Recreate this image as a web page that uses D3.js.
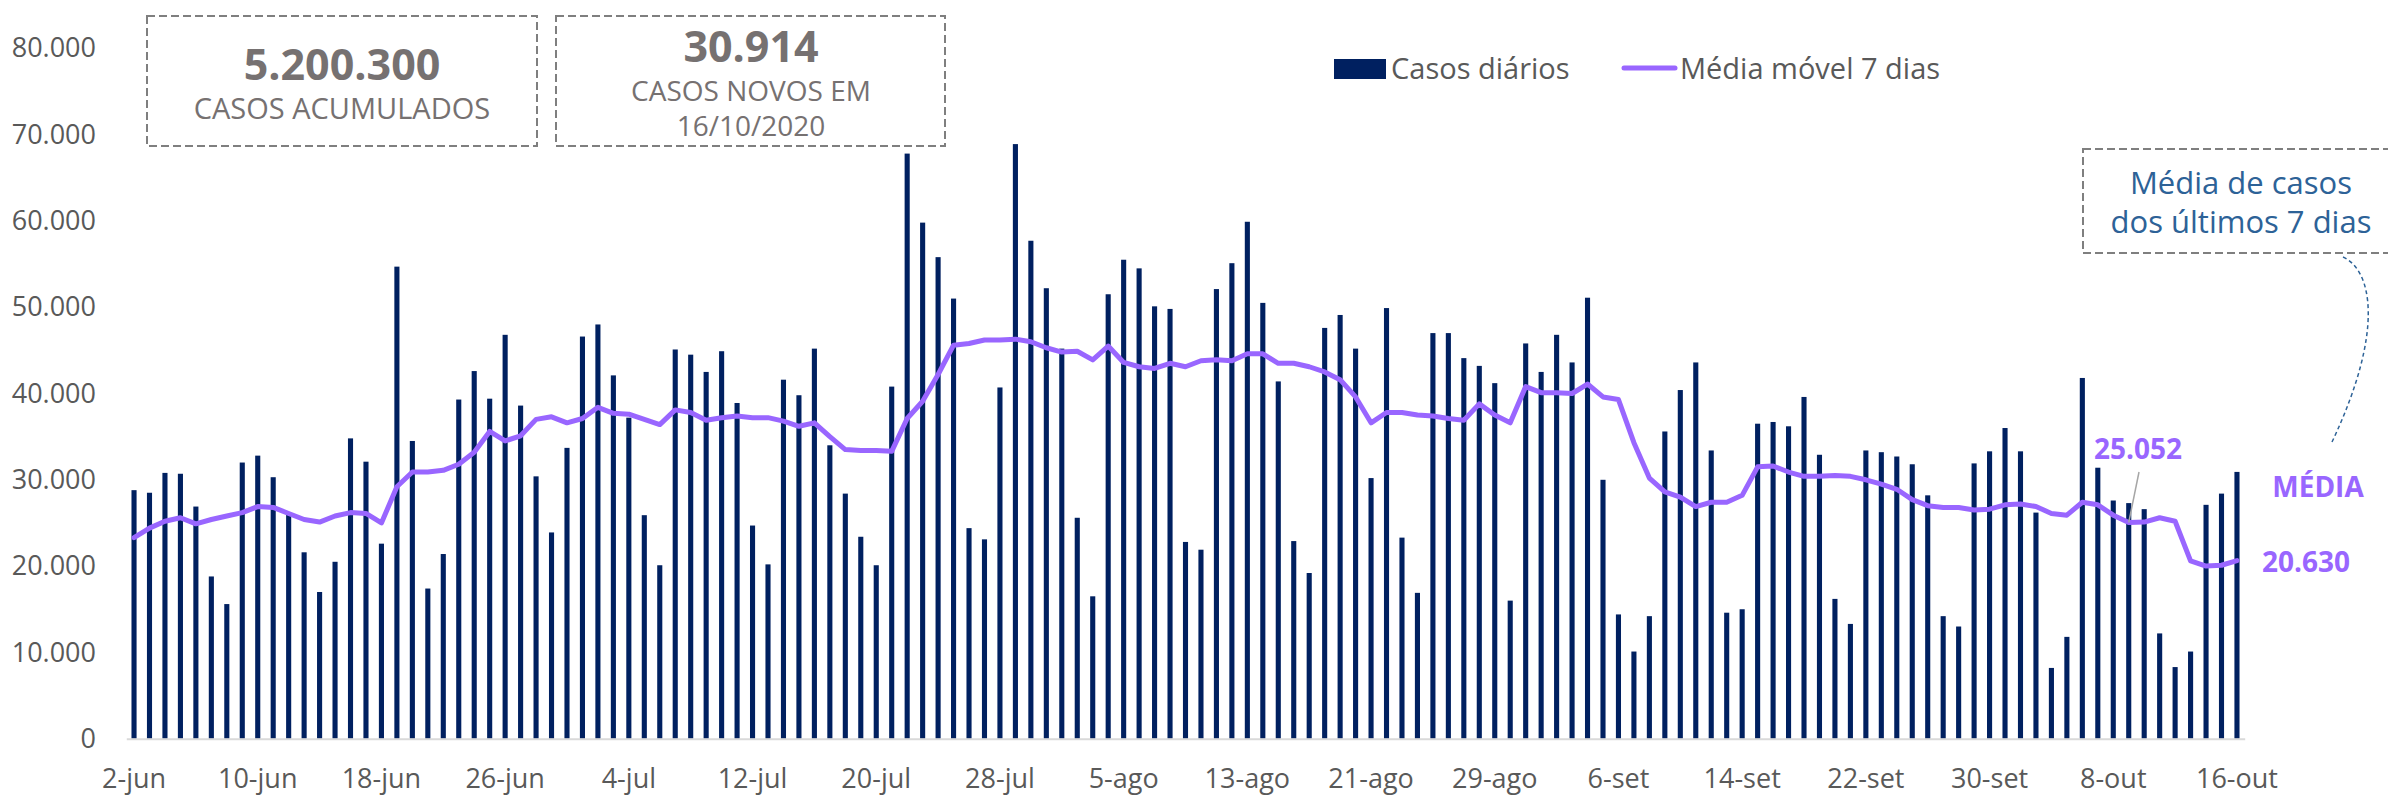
<!DOCTYPE html>
<html>
<head>
<meta charset="utf-8">
<script src="https://cdn.jsdelivr.net/npm/d3@7"></script>
<style>
body { margin: 0; background: #fff; }
svg { display: block; }
text { font-family: "Open Sans", "Noto Sans", sans-serif; }
</style>
</head>
<body>
<svg id="canvas" width="2388" height="796"></svg>
<script>
let width = 2388
let height = 796

// meses do eixo: nome, primeiro dia, ultimo dia
let meses = [['jun', 2, 30], ['jul', 1, 31], ['ago', 1, 31], ['set', 1, 30], ['out', 1, 16]]
let dias = []
meses.forEach(([m, a, b]) => {
    for (let d = a; d <= b; d++) dias.push(d + '-' + m)
})

let casosDiarios = [
    // junho
    28800, 28500, 30800, 30700, 26900, 18800, 15600, 32000, 32800, 30300,
    26000, 21600, 17000, 20500, 34800, 32100, 22600, 54700, 34500, 17400,
    21400, 39300, 42600, 39400, 46800, 38600, 30400, 23900, 33700,
    // julho
    46600, 48000, 42100, 37200, 25900, 20100, 45100, 44500, 42500, 44900,
    38900, 24700, 20200, 41600, 39800, 45200, 34000, 28400, 23400, 20100,
    40800, 67800, 59800, 55800, 51000, 24400, 23100, 40700, 68900, 57700, 52200,
    // agosto
    45200, 25600, 16500, 51500, 55500, 54500, 50100, 49800, 22800, 21900,
    52100, 55100, 59900, 50500, 41400, 22900, 19200, 47600, 49100, 45200,
    30200, 49900, 23300, 16900, 47000, 47000, 44100, 43200, 41200, 16000, 45800,
    // setembro
    42500, 46800, 43600, 51100, 30000, 14400, 10100, 14200, 35600, 40400,
    43600, 33400, 14600, 15000, 36500, 36700, 36200, 39600, 32900, 16200,
    13300, 33400, 33200, 32700, 31800, 28200, 14200, 13000, 31900, 33300,
    // outubro
    36000, 33300, 26200, 8200, 11800, 41800, 31400, 27600, 27300, 26600,
    12200, 8300, 10100, 27100, 28400, 30914
]

let mediaMovel = [
    // junho
    23300, 24400, 25200, 25600, 24900, 25400, 25800, 26200, 26900, 26800,
    26100, 25400, 25100, 25800, 26200, 26100, 25000, 29200, 30900, 30900,
    31100, 31800, 33200, 35600, 34500, 35100, 37000, 37300, 36600,
    // julho
    37100, 38400, 37700, 37600, 37000, 36400, 38100, 37800, 36900, 37200,
    37400, 37200, 37200, 36800, 36200, 36600, 35000, 33500, 33400, 33400,
    33300, 37100, 39100, 42200, 45600, 45800, 46200, 46200, 46300, 46000, 45300,
    // agosto
    44800, 44900, 43900, 45500, 43600, 43100, 42900, 43500, 43100, 43800,
    43900, 43800, 44600, 44600, 43500, 43500, 43100, 42500, 41600, 39600,
    36600, 37800, 37800, 37500, 37400, 37100, 36900, 38800, 37500, 36600, 40800,
    // setembro
    40100, 40100, 40000, 41100, 39600, 39300, 34300, 30200, 28600, 28000,
    26900, 27400, 27400, 28200, 31500, 31600, 30900, 30400, 30400, 30500,
    30400, 30000, 29500, 28900, 27700, 27000, 26800, 26800, 26500, 26600,
    // outubro
    27100, 27200, 26900, 26100, 25900, 27400, 27100, 25900, 25052, 25100,
    25600, 25200, 20600, 20000, 20100, 20630
]

let yTicks = [0, 10000, 20000, 30000, 40000, 50000, 60000, 70000, 80000]
let xTickLabels = ['2-jun', '10-jun', '18-jun', '26-jun', '4-jul', '12-jul', '20-jul', '28-jul',
    '5-ago', '13-ago', '21-ago', '29-ago', '6-set', '14-set', '22-set', '30-set', '8-out', '16-out']

let navy = '#002060'
let roxo = '#9966ff'
let cinza = '#595959'
let cinzaCaixa = '#767171'

let br = d3.formatLocale({ decimal: ',', thousands: '.', grouping: [3], currency: ['R$', ''] })
let fmt = br.format(',d')

let canvas = d3.select('#canvas')

let x = d3.scaleBand()
          .domain(dias)
          .range([126.3, 2244.7])
          .paddingInner(0.67)
          .paddingOuter(0.335)

let y = d3.scaleLinear()
          .domain([0, 80000])
          .range([738.7, 48.3])

let cx = (d) => x(d) + x.bandwidth() / 2

// eixo y
let yAxis = canvas.append('g')
                  .attr('transform', 'translate(126,0)')
                  .call(d3.axisLeft(y).tickValues(yTicks).tickFormat(fmt).tickSize(0).tickPadding(30))
yAxis.select('.domain').remove()
yAxis.selectAll('text')
     .attr('fill', cinza)
     .style('font-size', '27px')

// barras
canvas.selectAll('rect.bar')
      .data(casosDiarios)
      .enter()
      .append('rect')
      .attr('class', 'bar')
      .attr('x', (v, i) => x(dias[i]))
      .attr('width', x.bandwidth())
      .attr('y', (v) => y(v))
      .attr('height', (v) => y(0) - y(v))
      .attr('fill', navy)

// eixo x
let xAxis = canvas.append('g')
                  .attr('transform', 'translate(0,' + y(0) + ')')
                  .call(d3.axisBottom(x).tickValues(xTickLabels).tickSize(0).tickPadding(30))
xAxis.select('.domain')
     .attr('stroke', '#d9d9d9')
     .attr('stroke-width', 2)
xAxis.selectAll('text')
     .attr('fill', cinza)
     .style('font-size', '27px')

// media movel
let linha = d3.line()
              .x((v, i) => cx(dias[i]))
              .y((v) => y(v))

canvas.append('path')
      .datum(mediaMovel)
      .attr('d', linha)
      .attr('fill', 'none')
      .attr('stroke', roxo)
      .attr('stroke-width', 5)
      .attr('stroke-linejoin', 'round')
      .attr('stroke-linecap', 'round')

// legenda
canvas.append('rect')
      .attr('x', 1334).attr('y', 59)
      .attr('width', 52).attr('height', 20)
      .attr('fill', navy)
canvas.append('text')
      .attr('x', 1391).attr('y', 79)
      .attr('fill', cinza)
      .style('font-size', '29px')
      .text('Casos diários')
canvas.append('line')
      .attr('x1', 1624).attr('x2', 1675)
      .attr('y1', 68).attr('y2', 68)
      .attr('stroke', roxo)
      .attr('stroke-width', 5)
      .attr('stroke-linecap', 'round')
canvas.append('text')
      .attr('x', 1680).attr('y', 79)
      .attr('fill', cinza)
      .style('font-size', '29px')
      .text('Média móvel 7 dias')

// caixas de destaque
let caixa = (x0, y0, w, h) => {
    canvas.append('rect')
          .attr('x', x0).attr('y', y0)
          .attr('width', w).attr('height', h)
          .attr('fill', 'none')
          .attr('stroke', '#7f7f7f')
          .attr('stroke-width', 2)
          .attr('stroke-dasharray', '8 4')
}
caixa(147, 16, 390, 130)
caixa(556, 16, 389, 130)
caixa(2083, 149, 330, 104)

let texto = (tx, ty, size, weight, color, str) => {
    canvas.append('text')
          .attr('x', tx).attr('y', ty)
          .attr('text-anchor', 'middle')
          .attr('fill', color)
          .style('font-size', size + 'px')
          .style('font-weight', weight)
          .text(str)
}

texto(342, 80, 43, 700, cinzaCaixa, '5.200.300')
texto(342, 119, 29, 400, cinzaCaixa, 'CASOS ACUMULADOS')
texto(751, 62, 43, 700, cinzaCaixa, fmt(casosDiarios[casosDiarios.length - 1]))
texto(751, 101, 28, 400, cinzaCaixa, 'CASOS NOVOS EM')
texto(751, 136, 28, 400, cinzaCaixa, '16/10/2020')

texto(2241, 194, 31, 400, '#2d6297', 'Média de casos')
texto(2241, 233, 31, 400, '#2d6297', 'dos últimos 7 dias')

canvas.append('path')
      .attr('d', 'M2343,257 C2372,270 2385,330 2332,442')
      .attr('fill', 'none')
      .attr('stroke', '#2d6297')
      .attr('stroke-width', 1.5)
      .attr('stroke-dasharray', '4 3')

// rotulos da media
let iRot = dias.indexOf('9-out')
canvas.append('line')
      .attr('x1', 2139).attr('y1', 472)
      .attr('x2', cx(dias[iRot])).attr('y2', y(mediaMovel[iRot]))
      .attr('stroke', '#a6a6a6')
      .attr('stroke-width', 1.5)
texto(2138, 459, 28, 700, roxo, fmt(mediaMovel[iRot]))
texto(2318, 497, 28, 700, roxo, 'MÉDIA')
texto(2306, 572, 28, 700, roxo, fmt(mediaMovel[mediaMovel.length - 1]))
</script>
</body>
</html>
